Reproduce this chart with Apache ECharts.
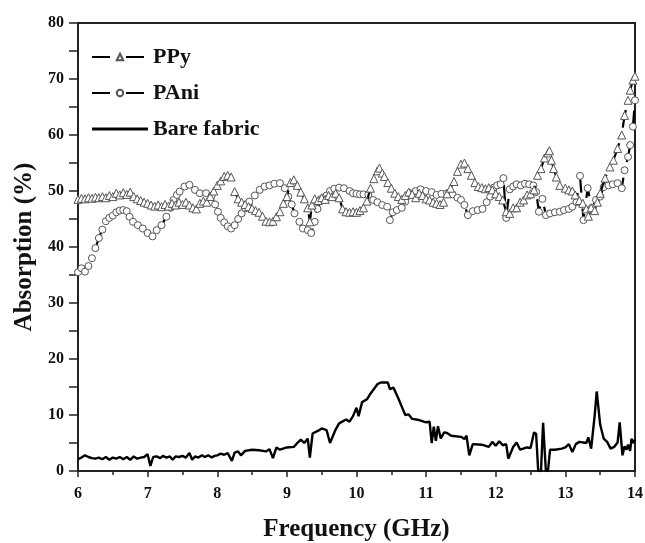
<!DOCTYPE html>
<html>
<head>
<meta charset="utf-8">
<script src="https://cdn.jsdelivr.net/npm/echarts@6/dist/echarts.min.js"></script>
<style>html,body{margin:0;padding:0;background:#fff}#c{width:645px;height:543px}</style>
</head>
<body>
<div id="c"></div>
<script>
var ppyFreq = [6.00,6.05,6.10,6.15,6.20,6.25,6.30,6.35,6.40,6.45,6.50,6.55,6.60,6.65,6.70,6.75,6.80,6.85,6.90,6.95,7.00,7.05,7.10,7.15,7.20,7.25,7.30,7.35,7.40,7.45,7.50,7.55,7.60,7.65,7.70,7.75,7.80,7.85,7.90,7.95,8.00,8.05,8.10,8.15,8.20,8.25,8.30,8.35,8.40,8.45,8.50,8.55,8.60,8.65,8.70,8.75,8.80,8.85,8.90,8.95,9.00,9.05,9.10,9.15,9.20,9.25,9.30,9.33,9.36,9.40,9.45,9.50,9.55,9.60,9.65,9.70,9.75,9.80,9.85,9.90,9.95,10.00,10.05,10.10,10.15,10.20,10.25,10.30,10.33,10.37,10.40,10.45,10.50,10.55,10.60,10.65,10.70,10.75,10.80,10.85,10.90,10.95,11.00,11.05,11.10,11.15,11.20,11.25,11.30,11.35,11.40,11.45,11.50,11.55,11.60,11.65,11.70,11.75,11.80,11.85,11.90,11.95,12.00,12.05,12.10,12.15,12.20,12.25,12.30,12.35,12.40,12.45,12.50,12.55,12.60,12.65,12.70,12.75,12.77,12.80,12.83,12.87,12.92,13.00,13.05,13.10,13.14,13.20,13.25,13.30,13.33,13.37,13.42,13.46,13.50,13.57,13.64,13.69,13.75,13.81,13.85,13.90,13.93,13.97,14.00];
var ppyAbs = [48.5,48.7,48.6,48.8,48.7,48.9,48.8,49.0,48.8,49.2,49.0,49.6,49.3,49.7,49.4,49.8,49.0,48.6,48.3,48.0,47.8,47.5,47.3,47.5,47.2,47.6,47.3,47.8,47.5,48.0,47.6,48.0,47.5,47.0,46.8,47.8,48.2,48.0,49.0,50.0,51.0,51.8,52.6,52.8,52.5,49.9,48.6,48.0,47.6,47.2,46.9,46.5,46.2,45.5,44.6,44.5,44.6,45.4,46.3,47.8,49.0,51.5,52.0,51.0,49.8,48.6,47.0,44.5,47.5,48.6,48.3,48.8,48.5,49.2,49.0,49.6,48.8,46.8,46.3,46.2,46.3,46.2,46.5,47.0,48.2,50.5,52.2,53.6,54.1,53.2,52.6,51.5,50.5,49.6,49.0,48.5,49.2,49.8,49.4,48.8,49.6,49.2,48.6,48.4,48.0,47.8,47.6,48.0,49.5,50.5,51.7,53.5,54.8,55.0,54.0,52.8,51.5,50.8,50.6,50.4,50.6,50.2,49.5,49.0,48.4,46.3,46.0,47.0,47.0,48.0,48.4,49.3,49.5,50.2,52.8,54.0,55.9,56.8,57.2,55.5,54.0,52.5,51.0,50.5,50.2,50.0,49.3,48.3,47.8,46.8,45.5,47.0,46.5,48.0,49.6,52.3,54.3,55.5,57.6,60.0,63.5,66.2,68.0,69.8,70.5];

var paniFreq = [6.00,6.05,6.10,6.15,6.20,6.25,6.30,6.35,6.40,6.45,6.50,6.55,6.60,6.65,6.70,6.74,6.79,6.86,6.93,7.00,7.07,7.13,7.20,7.27,7.33,7.37,7.42,7.46,7.53,7.60,7.68,7.75,7.84,7.92,7.97,8.01,8.05,8.10,8.15,8.20,8.25,8.30,8.35,8.40,8.46,8.54,8.61,8.68,8.75,8.82,8.90,8.97,9.02,9.07,9.11,9.18,9.23,9.30,9.35,9.40,9.44,9.50,9.57,9.62,9.68,9.75,9.82,9.90,9.95,10.00,10.05,10.10,10.17,10.24,10.30,10.37,10.44,10.48,10.52,10.58,10.65,10.70,10.77,10.85,10.92,11.00,11.08,11.15,11.22,11.30,11.38,11.45,11.50,11.55,11.60,11.67,11.74,11.81,11.87,11.92,11.97,12.02,12.07,12.11,12.15,12.20,12.25,12.30,12.36,12.42,12.48,12.54,12.58,12.62,12.67,12.72,12.78,12.85,12.92,12.98,13.05,13.10,13.16,13.21,13.26,13.32,13.38,13.44,13.50,13.55,13.62,13.68,13.75,13.81,13.85,13.90,13.93,13.97,14.00];
var paniAbs = [35.5,36.2,35.6,36.6,38.0,39.8,41.6,43.1,44.6,45.2,45.6,46.2,46.5,46.6,46.4,45.4,44.5,43.9,43.3,42.5,41.9,43.0,43.9,45.4,47.0,48.4,49.3,49.9,50.8,51.1,50.2,49.6,49.6,49.2,47.6,46.3,45.2,44.4,43.7,43.3,43.9,45.0,46.0,46.9,48.1,49.2,50.2,50.8,51.0,51.3,51.4,50.5,49.0,47.6,46.0,44.5,43.3,43.0,42.5,44.5,46.8,48.6,49.2,50.0,50.4,50.6,50.5,50.0,49.6,49.5,49.4,49.4,49.3,48.4,48.0,47.5,47.2,44.8,46.2,46.6,47.0,48.1,49.6,50.0,50.3,50.0,49.8,49.3,49.5,49.6,49.4,48.8,48.4,47.5,45.7,46.4,46.6,46.8,48.0,49.0,50.6,51.0,51.2,52.3,45.2,50.3,50.8,51.2,51.0,51.3,51.2,51.0,49.8,46.3,48.6,45.7,46.0,46.2,46.3,46.6,46.8,47.2,48.0,52.7,44.8,50.5,47.0,48.4,49.0,50.7,51.0,51.2,51.4,50.5,53.7,56.1,58.2,61.5,66.2];

var bareFreq = [6.00,6.05,6.10,6.15,6.20,6.25,6.30,6.35,6.40,6.45,6.50,6.55,6.60,6.65,6.70,6.75,6.80,6.85,6.90,6.95,7.00,7.04,7.08,7.13,7.18,7.22,7.27,7.32,7.36,7.40,7.45,7.50,7.55,7.60,7.64,7.68,7.73,7.78,7.82,7.87,7.92,7.96,8.00,8.05,8.10,8.15,8.21,8.25,8.30,8.34,8.40,8.50,8.60,8.70,8.75,8.80,8.85,8.90,9.00,9.10,9.15,9.20,9.25,9.30,9.33,9.37,9.45,9.50,9.57,9.62,9.70,9.75,9.85,9.90,9.95,10.00,10.03,10.08,10.15,10.20,10.30,10.35,10.45,10.48,10.53,10.60,10.65,10.70,10.75,10.80,10.90,11.00,11.05,11.08,11.11,11.14,11.17,11.21,11.26,11.30,11.36,11.50,11.55,11.58,11.62,11.67,11.80,11.90,11.95,12.00,12.05,12.10,12.15,12.18,12.25,12.30,12.35,12.45,12.50,12.55,12.58,12.61,12.65,12.68,12.72,12.75,12.78,12.85,12.95,13.00,13.05,13.10,13.15,13.20,13.30,13.33,13.37,13.42,13.45,13.50,13.55,13.60,13.65,13.70,13.75,13.78,13.82,13.85,13.88,13.90,13.93,13.95,13.97,14.00];
var bareAbs = [2.1,2.4,2.8,2.5,2.3,2.2,2.4,2.1,2.5,2.0,2.4,2.2,2.5,2.1,2.5,2.0,2.6,2.2,2.4,2.5,3.0,0.9,2.5,2.6,2.3,2.7,2.4,2.6,2.0,2.6,2.5,2.7,2.4,3.2,2.0,2.6,2.4,2.8,2.5,2.8,2.4,2.7,2.8,3.1,2.9,3.2,1.8,3.3,3.5,2.8,3.6,3.8,3.7,3.5,3.9,2.3,4.2,3.8,4.2,4.3,5.0,5.6,5.0,5.8,2.4,6.7,7.2,7.6,7.3,5.0,7.4,8.5,9.2,8.8,9.8,11.3,9.8,12.3,12.8,13.8,15.5,15.8,15.8,14.6,14.9,13.0,11.5,10.0,10.1,9.3,9.1,8.7,8.8,5.0,7.9,5.4,8.0,5.8,6.9,6.8,6.3,6.1,5.7,6.3,2.8,4.8,4.7,4.3,5.2,4.5,5.3,4.6,4.8,2.2,4.3,5.1,3.8,4.2,4.1,6.9,6.6,0,0,8.6,0,0,3.8,3.8,4.0,4.2,4.8,3.4,4.8,5.2,5.0,6.0,4.0,9.8,14.2,8.3,5.8,5.2,4.0,4.3,5.1,8.7,2.8,4.4,3.8,4.7,3.6,5.8,5.0,5.6];

var xTicks = [6,7,8,9,10,11,12,13,14];
var yTicks = [0,10,20,30,40,50,60,70,80];

function pairs(xs, ys){ return xs.map(function(x,i){ return [x, ys[i]]; }); }

var FONT = '"Liberation Serif", "Times New Roman", serif';
var AX = '#222';
var chart = echarts.init(document.getElementById('c'), null, {renderer:'canvas'});
chart.setOption({
  animation: false,
  backgroundColor: '#fff',
  grid: {left: 78, right: 10, top: 23, bottom: 72, outerBoundsMode: 'none', containLabel: false, show: true, borderColor: AX, borderWidth: 2, backgroundColor: 'transparent'},
  legend: {
    orient: 'vertical', left: 86, top: 41, itemWidth: 56, itemHeight: 8, itemGap: 14,
    textStyle: {fontFamily: FONT, fontWeight: 'bold', fontSize: 22, color: '#111'},
    data: [
      {name: 'PPy'},
      {name: 'PAni'},
      {name: 'Bare fabric', icon: 'path://M0 0H60V3H0Z'}
    ]
  },
  xAxis: {
    type: 'value', min: xTicks[0], max: xTicks[xTicks.length-1], interval: 1,
    name: 'Frequency (GHz)', nameLocation: 'middle', nameGap: 46,
    nameTextStyle: {fontFamily: FONT, fontWeight: 'bold', fontSize: 25, color: '#111'},
    axisLine: {show: true, lineStyle: {color: AX, width: 2}},
    axisTick: {show: true, inside: false, length: 6, lineStyle: {color: AX, width: 1.5}},
    minorTick: {show: true, splitNumber: 2, length: 4, lineStyle: {color: AX, width: 1.5}},
    splitLine: {show: false},
    axisLabel: {fontFamily: FONT, fontWeight: 'bold', fontSize: 16, color: '#111', margin: 15}
  },
  yAxis: {
    type: 'value', min: yTicks[0], max: yTicks[yTicks.length-1], interval: 10,
    name: 'Absorption (%)', nameLocation: 'middle', nameGap: 41,
    nameTextStyle: {fontFamily: FONT, fontWeight: 'bold', fontSize: 25, color: '#111'},
    axisLine: {show: true, lineStyle: {color: AX, width: 2}},
    axisTick: {show: true, inside: false, length: 9, lineStyle: {color: AX, width: 1.5}},
    minorTick: {show: true, splitNumber: 2, length: 9, lineStyle: {color: AX, width: 1.5}},
    splitLine: {show: false},
    axisLabel: {fontFamily: FONT, fontWeight: 'bold', fontSize: 16, color: '#111', margin: 14}
  },
  series: [
    {
      name: 'PPy', type: 'line', data: pairs(ppyFreq, ppyAbs),
      symbol: 'triangle', symbolSize: 8, showAllSymbol: true,
      lineStyle: {color: '#000', width: 2.2, type: [18, 16]},
      itemStyle: {color: '#fff', borderColor: '#555', borderWidth: 1},
      z: 3
    },
    {
      name: 'PAni', type: 'line', data: pairs(paniFreq, paniAbs),
      symbol: 'circle', symbolSize: 7, showAllSymbol: true,
      lineStyle: {color: '#000', width: 2.2, type: [18, 16]},
      itemStyle: {color: '#fff', borderColor: '#555', borderWidth: 1},
      z: 2
    },
    {
      name: 'Bare fabric', type: 'line', data: pairs(bareFreq, bareAbs),
      symbol: 'none', showSymbol: false,
      lineStyle: {color: '#000', width: 2.4},
      itemStyle: {color: '#000'},
      z: 4
    }
  ]
});
</script>
</body>
</html>
